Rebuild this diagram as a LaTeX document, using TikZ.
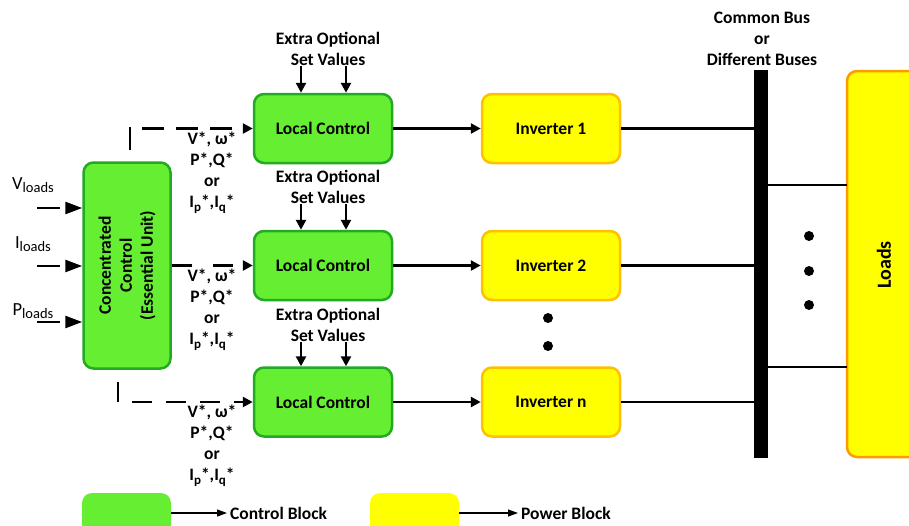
\documentclass[tikz,border=0pt]{standalone}
\usepackage{fontspec}
\setmainfont{Carlito}
\usetikzlibrary{arrows.meta}
\definecolor{gfill}{HTML}{66EE33}
\definecolor{gborder}{HTML}{22AA22}
\definecolor{yfill}{HTML}{FFFF00}
\definecolor{yborder}{HTML}{FFC000}
\definecolor{oborder}{HTML}{FF9900}
\newcommand\mysb[1]{\raisebox{-0.22em}{\fontsize{13}{13}\selectfont #1}}
\newcommand\mylsb[1]{\raisebox{-0.2em}{\fontsize{14.5}{14.5}\selectfont #1}}
\begin{document}
\begin{tikzpicture}[x=1pt,y=-1pt,
  every node/.style={font=\fontsize{17.5}{21}\selectfont\bfseries, align=center, inner sep=0pt},
  ctrl/.style={draw=gborder, fill=gfill, line width=2.5pt, rounded corners=10pt, minimum width=138pt, minimum height=69pt},
  pwr/.style={draw=yborder, fill=yfill, line width=2.5pt, rounded corners=10pt, minimum width=138pt, minimum height=69pt},
  wire/.style={line width=2.5pt},
  arr/.style={line width=2.5pt, -{Triangle[length=10pt,width=10pt]}},
  inarr/.style={line width=2.5pt, dash pattern=on 23pt off 7pt, -{Triangle[length=17pt,width=12pt]}},
  dsh/.style={line width=2.5pt, dash pattern=on 21pt off 13pt, -{Triangle[length=10pt,width=10pt]}},
  legarr/.style={line width=1.2pt, -{Triangle[length=10pt,width=7pt]}},
  dotc/.style={circle, fill=black, minimum size=10pt, inner sep=0pt},
  lbl/.style={font=\fontsize{18.5}{20}\selectfont}]
\useasboundingbox (0,0) rectangle (909,525);
\clip (0,0) rectangle (909,525);

% concentrated control
\node[ctrl, minimum width=87pt, minimum height=206pt] (cc) at (127,265.5) {};
\node[rotate=90] (cctext) at (cc.center) {Concentrated\\Control\\(Essential Unit)};

% input labels and arrows
\node[lbl] (vl) at (33,185) {V\mylsb{loads}};
\node[lbl] (il) at (33,244) {I\mylsb{loads}};
\node[lbl] (pl) at (33,311) {P\mylsb{loads}};
\coordinate (vin) at (37,208);
\coordinate (iin) at (37,266);
\coordinate (pin) at (37,322);
\draw[inarr] (vin) -- (vin -| cc.west);
\draw[inarr] (iin) -- (iin -| cc.west);
\draw[inarr] (pin) -- (pin -| cc.west);

% local controls
\node[ctrl] (lc1) at (323,128.5) {Local Control};
\node[ctrl] (lc2) at (323,265.5) {Local Control};
\node[ctrl] (lc3) at (323,402) {Local Control};

% inverters
\node[pwr] (inv1) at (551,128.5) {Inverter 1};
\node[pwr] (inv2) at (551,265.5) {Inverter 2};
\node[pwr] (inv3) at (551,402) {Inverter n};

% extra optional set values
\node (ex1) at (328,49) {Extra Optional\\Set Values};
\node (ex2) at (328,187) {Extra Optional\\Set Values};
\node (ex3) at (328,325) {Extra Optional\\Set Values};
\foreach \i in {1,2,3}{
  \draw[arr] ([xshift=-22pt]lc\i.north |- ex\i.south) -- ([xshift=-22pt]lc\i.north);
  \draw[arr] ([xshift=23pt]lc\i.north |- ex\i.south) -- ([xshift=23pt]lc\i.north);
  \draw[arr] (lc\i.east) -- (inv\i.west);
}

% dashed setpoint connectors
\draw[dsh, dash pattern=on 22pt off 12pt, dash phase=23pt] ([xshift=3pt]cc.north) |- (lc1.west);
\draw[dsh, dash pattern=on 20pt off 21pt] (cc.east |- lc2.west) -- (lc2.west);
\draw[dsh, dash pattern=on 20pt off 14pt, dash phase=22pt] ([xshift=-9pt]cc.south) |- (lc3.west);

% setpoint labels
\node[anchor=north] (sp1) at (212,132) {V*, ω*\\P*,Q*\\or\\I\mysb{p}*,I\mysb{q}*};
\node[anchor=north] (sp2) at (212,269) {V*, ω*\\P*,Q*\\or\\I\mysb{p}*,I\mysb{q}*};
\node[anchor=north] (sp3) at (212,405) {V*, ω*\\P*,Q*\\or\\I\mysb{p}*,I\mysb{q}*};

% bus
\node[fill=black, minimum width=14pt, minimum height=388pt] (bus) at (761,264) {};
\node (bustext) at (762,39) {Common Bus\\or\\Different Buses};
\foreach \i in {1,2,3}{
  \draw[wire] (inv\i.east) -- (inv\i.east -| bus.west);
}

% loads
\node[draw=oborder, fill=yfill, line width=2.5pt, rounded corners=10pt, minimum width=130pt, minimum height=386pt] (loads) at (912,264) {};
\node[rotate=90, font=\fontsize{20}{24}\selectfont\bfseries] (loadstext) at (884,265) {Loads};
\coordinate (l1) at (847,185);
\coordinate (l2) at (847,367);
\draw[wire] (l1 -| bus.east) -- (l1);
\draw[wire] (l2 -| bus.east) -- (l2);

% dots
\node[dotc] (d1) at (809,236) {};
\node[dotc] (d2) at (809,271) {};
\node[dotc] (d3) at (809,305) {};
\node[dotc] (d4) at (548,318) {};
\node[dotc] (d5) at (548,346) {};

% legend
\node[fill=gfill, rounded corners=10pt, minimum width=89pt, minimum height=44pt] (lg1) at (126.5,515) {};
\node[anchor=west] (lt1) at (230,513) {Control Block};
\draw[legarr] (lg1.east |- lt1.west) -- ([xshift=-3pt]lt1.west);
\node[fill=yfill, rounded corners=10pt, minimum width=89pt, minimum height=44pt] (lg2) at (414.5,515) {};
\node[anchor=west] (lt2) at (521,513) {Power Block};
\draw[legarr] (lg2.east |- lt2.west) -- ([xshift=-3pt]lt2.west);
\end{tikzpicture}
\end{document}
